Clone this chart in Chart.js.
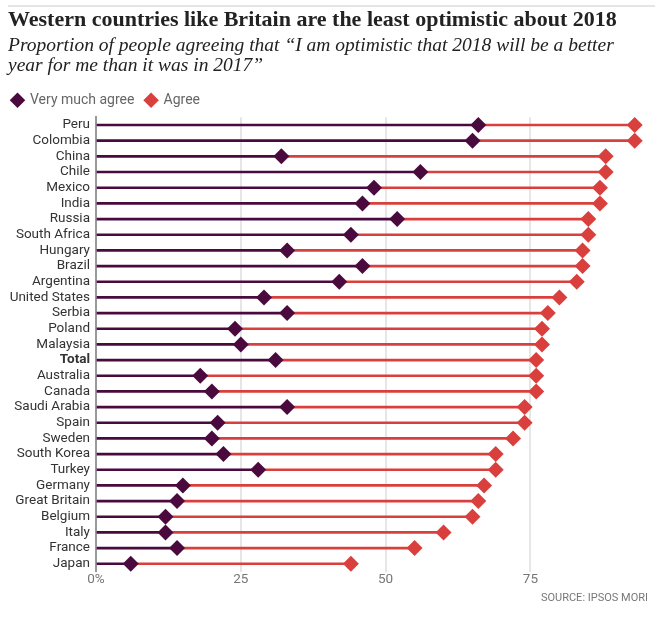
<!DOCTYPE html>
<html>
<head>
<meta charset="utf-8">
<script src="https://cdn.jsdelivr.net/npm/chart.js@4.4.1/dist/chart.umd.min.js"></script>
<style>
  html, body { margin: 0; padding: 0; background: #fff; }
  #wrap { position: relative; width: 663px; height: 618px; }
  #rule { position: absolute; left: 8px; right: 8px; top: 5px; border-top: 2px solid #e5e5e5; }
  canvas { display: block; }
</style>
</head>
<body>
<div id="wrap">
  <div id="rule"></div>
  <canvas id="chart" width="663" height="618"></canvas>
</div>
<script>
const countries = ['Peru', 'Colombia', 'China', 'Chile', 'Mexico', 'India', 'Russia', 'South Africa',
    'Hungary', 'Brazil', 'Argentina', 'United States', 'Serbia', 'Poland', 'Malaysia', 'Total',
    'Australia', 'Canada', 'Saudi Arabia', 'Spain', 'Sweden', 'South Korea', 'Turkey', 'Germany',
    'Great Britain', 'Belgium', 'Italy', 'France', 'Japan']
const veryMuchAgree = [66, 65, 32, 56, 48, 46, 52, 44, 33, 46, 42, 29, 33, 24, 25, 31,
    18, 20, 33, 21, 20, 22, 28, 15, 14, 12, 12, 14, 6]
const agree = [93, 93, 88, 88, 87, 87, 85, 85, 84, 84, 83, 80, 78, 77, 77, 76,
    76, 76, 74, 74, 72, 69, 69, 67, 66, 65, 60, 55, 44]
const xTicks = [0, 25, 50, 75]

const purple = '#4b0a3e'
const red = '#d9403d'
const sans = "'Roboto', 'Liberation Sans', sans-serif"
const serif = "'Liberation Serif', 'DejaVu Serif', serif"

const chart = new Chart(document.getElementById('chart'), {
    type: 'bar',
    data: {
        labels: countries,
        datasets: [{
            type: 'line',
            label: 'Very much agree',
            indexAxis: 'y',
            data: veryMuchAgree,
            showLine: false,
            pointStyle: 'rectRot',
            pointRadius: 8,
            pointHoverRadius: 8,
            pointBorderWidth: 0,
            backgroundColor: purple,
            borderColor: purple,
            order: 0
        }, {
            type: 'line',
            label: 'Agree',
            indexAxis: 'y',
            data: agree,
            showLine: false,
            pointStyle: 'rectRot',
            pointRadius: 8,
            pointHoverRadius: 8,
            pointBorderWidth: 0,
            backgroundColor: red,
            borderColor: red,
            order: 0
        }, {
            label: 'stem very',
            data: veryMuchAgree.map(v => [0, v]),
            backgroundColor: purple,
            barThickness: 2,
            grouped: false,
            order: 2
        }, {
            label: 'stem agree',
            data: veryMuchAgree.map((v, i) => [v, agree[i]]),
            backgroundColor: red,
            barThickness: 2,
            grouped: false,
            order: 1
        }]
    },
    options: {
        indexAxis: 'y',
        responsive: false,
        animation: false,
        layout: { padding: { top: 8, left: 8, right: 15, bottom: 13 } },
        plugins: {
            title: {
                display: true,
                text: 'Western countries like Britain are the least optimistic about 2018',
                align: 'start',
                color: '#222',
                font: { family: serif, size: 22, weight: 'bold', lineHeight: 1.1 },
                padding: { top: 0, bottom: 0 }
            },
            subtitle: {
                display: true,
                text: ['Proportion of people agreeing that \u201cI am optimistic that 2018 will be a better',
                    'year for me than it was in 2017\u201d'],
                align: 'start',
                color: '#222',
                font: { family: serif, size: 19.5, style: 'italic', lineHeight: 1 },
                padding: { top: 4, bottom: 14 }
            },
            legend: {
                align: 'start',
                labels: {
                    usePointStyle: true,
                    pointStyle: 'rectRot',
                    boxWidth: 11,
                    boxHeight: 11,
                    color: '#666',
                    font: { family: sans, size: 14 },
                    padding: 4,
                    generateLabels: c => Chart.defaults.plugins.legend.labels.generateLabels(c)
                        .map(item => Object.assign(item, { text: item.text + '\u2002' })),
                    filter: item => item.datasetIndex < 2
                }
            },
            tooltip: { enabled: false }
        },
        scales: {
            x: {
                min: 0,
                max: 95.3,
                afterBuildTicks: axis => { axis.ticks = xTicks.map(v => ({ value: v })) },
                grid: {
                    drawTicks: false,
                    color: c => c.tick && c.tick.value === 0 ? 'rgba(0,0,0,0)' : '#e6e6e6',
                    lineWidth: 2
                },
                border: { display: false },
                ticks: {
                    color: '#777',
                    padding: 0,
                    font: { family: sans, size: 13.5 },
                    callback: v => v === 0 ? '0%' : v
                },
                title: {
                    display: true,
                    text: 'SOURCE: IPSOS MORI',
                    align: 'end',
                    color: '#777',
                    font: { family: sans, size: 11 },
                    padding: { top: 4, bottom: 0 }
                }
            },
            y: {
                afterFit: scale => { scale.width = 88 },
                grid: { display: false, drawTicks: false },
                border: { color: '#999', width: 2 },
                ticks: {
                    color: '#333',
                    padding: 6,
                    autoSkip: false,
                    font: c => ({ family: sans, size: 13.5, weight: countries[c.index] === 'Total' ? 'bold' : 'normal' })
                }
            }
        }
    }
})
</script>
</body>
</html>
